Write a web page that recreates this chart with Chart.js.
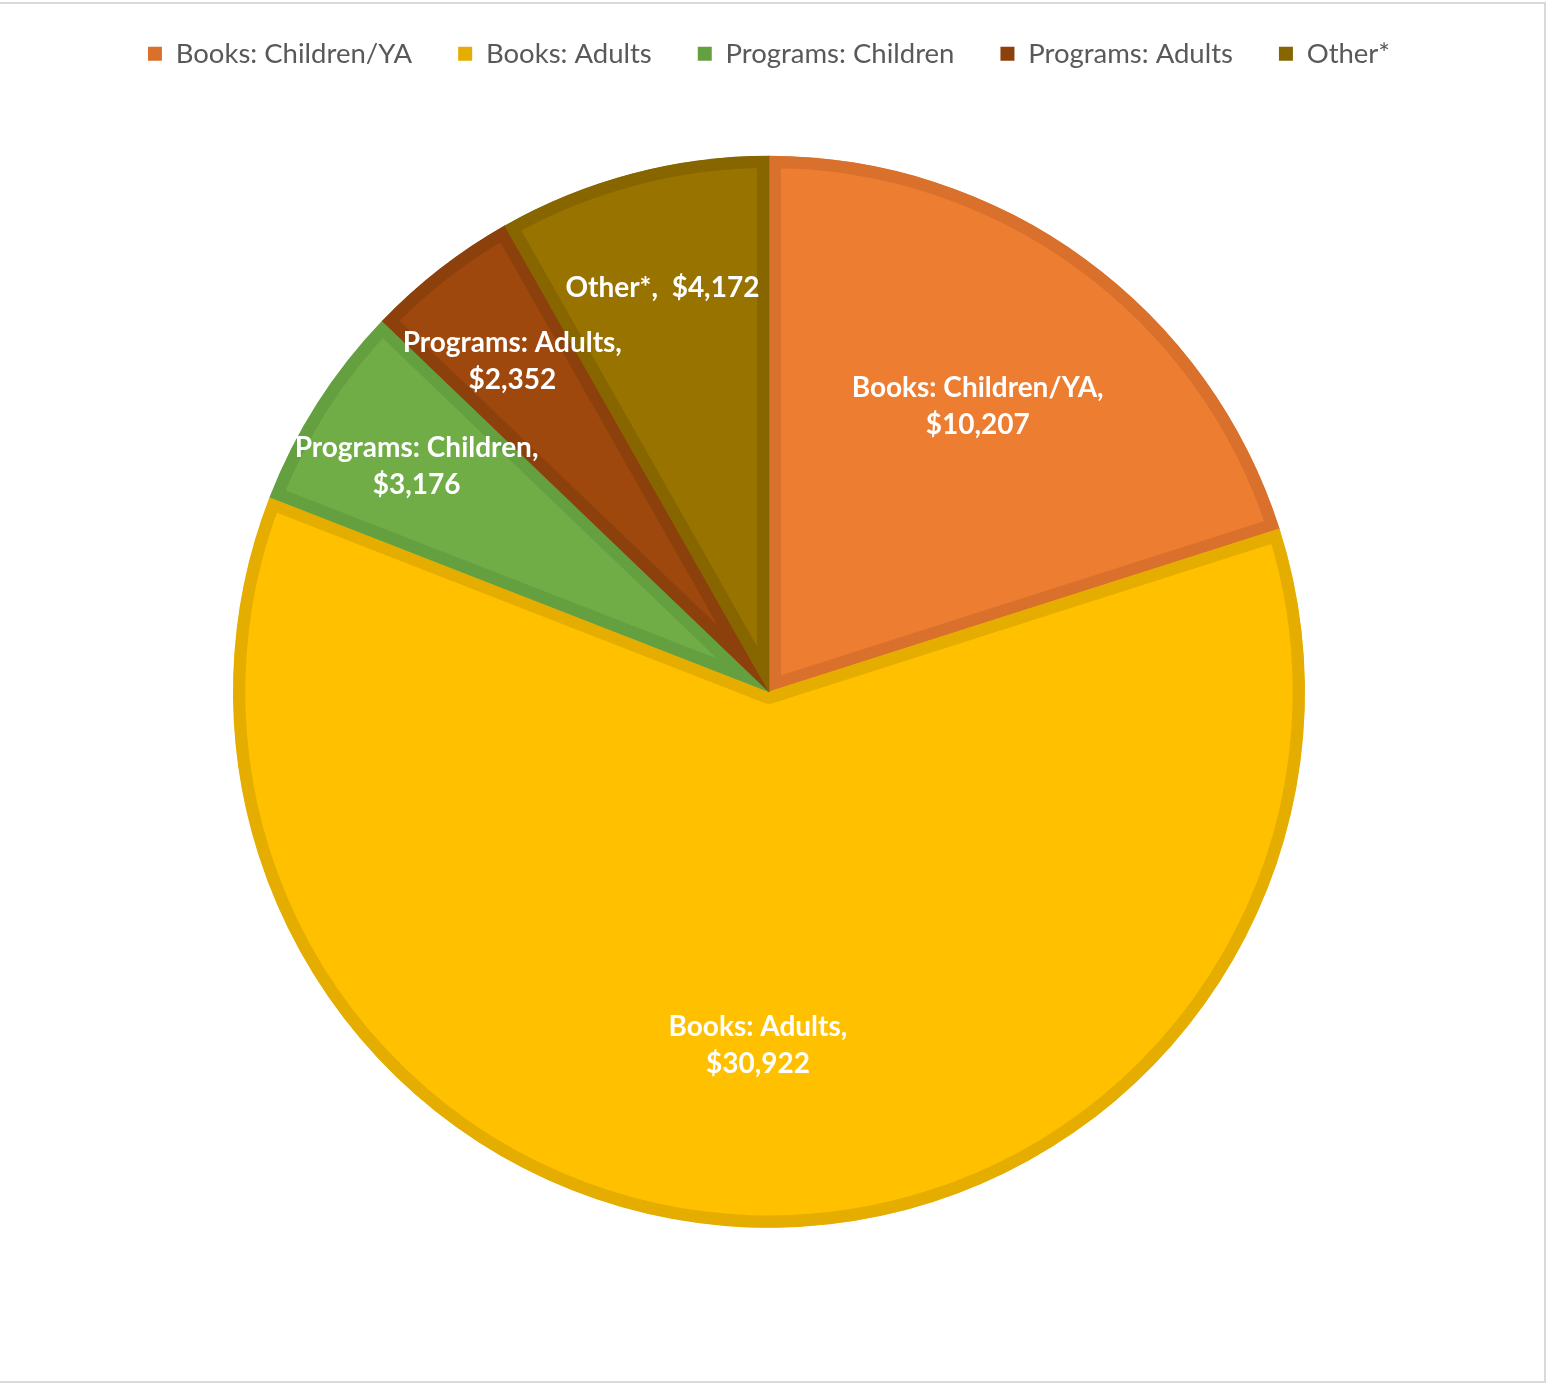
<!DOCTYPE html>
<html>
<head>
<meta charset="utf-8">
<script src="https://cdn.jsdelivr.net/npm/chart.js@4/dist/chart.umd.min.js"></script>
<style>
  html, body { margin: 0; padding: 0; background: #fff; overflow: hidden; }
  #frame {
    position: absolute; left: -10px; top: 2px;
    width: 1552px; height: 1377px;
    border: 2px solid #d9d9d9; background: #fff;
  }
  #wrap { position: absolute; left: 0; top: -6px; width: 1538px; height: 1384px; }
</style>
</head>
<body>
<div id="frame"></div>
<div id="wrap"><canvas id="chart"></canvas></div>
<script>
const categories = ["Books: Children/YA", "Books: Adults", "Programs: Children", "Programs: Adults", "Other*"];
const amounts = [10207, 30922, 3176, 2352, 4172];
const fillColors = ["#ED7D31", "#FFC000", "#70AD47", "#9E480E", "#997300"];
const edgeColors = ["#D9702B", "#E5AD00", "#65A040", "#8C400C", "#876600"];

const money = v => "$" + v.toLocaleString("en-US");

// white bold labels drawn inside each slice
const sliceLabels = {
  id: "sliceLabels",
  afterDatasetsDraw(chart) {
    const ctx = chart.ctx;
    const meta = chart.getDatasetMeta(0);
    const total = amounts.reduce((a, b) => a + b, 0);
    ctx.save();
    ctx.fillStyle = "#fff";
    ctx.font = "bold 28px Lato";
    ctx.textAlign = "center";
    ctx.textBaseline = "middle";
    meta.data.forEach((arc, i) => {
      const p = arc.getProps(["x", "y", "startAngle", "endAngle", "outerRadius"], true);
      const mid = (p.startAngle + p.endAngle) / 2;
      const share = amounts[i] / total;
      const r = p.outerRadius * (share > 0.15 ? 0.66 : 0.78);
      const cx = p.x + Math.cos(mid) * r;
      const cy = p.y + Math.sin(mid) * r;
      const name = categories[i] + ",";
      const lines = name.length < 9 ? [name + "  " + money(amounts[i])] : [name, money(amounts[i])];
      const lh = 37;
      lines.forEach((t, k) => {
        ctx.fillText(t, cx, cy + (k - (lines.length - 1) / 2) * lh);
      });
    });
    ctx.restore();
  }
};

new Chart(document.getElementById("chart"), {
  type: "pie",
  data: {
    labels: categories,
    datasets: [{
      data: amounts,
      backgroundColor: fillColors,
      borderColor: edgeColors,
      borderWidth: 12,
      borderAlign: "inner",
      radius: 536,
    }],
  },
  options: {
    responsive: true,
    maintainAspectRatio: false,
    animation: false,
    layout: { padding: { top: 0, bottom: 72, left: 0, right: 0 } },
    plugins: {
      tooltip: { enabled: false },
      legend: {
        position: "top",
        labels: {
          color: "#595959",
          font: { family: "Lato", size: 27.5 },
          boxWidth: 14,
          boxHeight: 14,
          padding: 46,
          generateLabels(chart) {
            return categories.map((c, i) => ({
              text: c,
              fillStyle: edgeColors[i],
              strokeStyle: edgeColors[i],
              lineWidth: 0,
              fontColor: "#595959",
              index: i,
            }));
          },
        },
      },
    },
  },
  plugins: [sliceLabels],
});
</script>
</body>
</html>
